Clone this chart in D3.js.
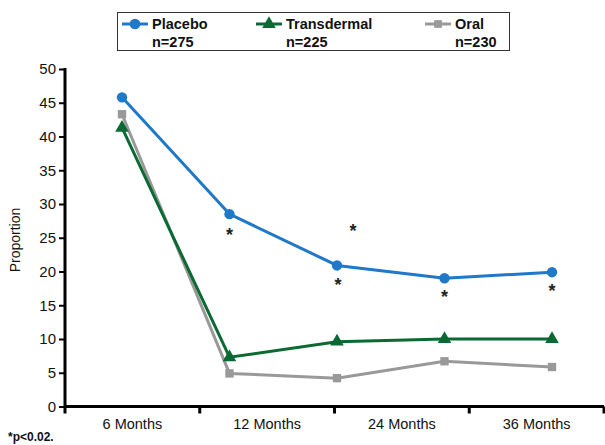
<!DOCTYPE html>
<html>
<head>
<meta charset="utf-8">
<script src="https://cdn.jsdelivr.net/npm/d3@7"></script>
<style>
  body { margin: 0; background: #fff; }
  svg { display: block; font-family: "Liberation Sans", Arial, sans-serif; }
</style>
</head>
<body>
<svg id="chart" width="605" height="445"></svg>
<script>
// categories shown under the axis and the visit index of each plotted point
var categories = ["6 Months", "12 Months", "24 Months", "36 Months"];
var visits = [0, 1, 2, 3, 4];
var yTicks = [0, 5, 10, 15, 20, 25, 30, 35, 40, 45, 50];

var placebo = [45.8, 28.5, 20.9, 19.0, 19.9];
var transdermal = [41.3, 7.3, 9.6, 10.0, 10.0];
var oral = [43.3, 4.9, 4.2, 6.7, 5.85];

var seriesNames = ["Placebo", "Transdermal", "Oral"];
var seriesN = ["n=275", "n=225", "n=230"];

// significance marks: [visit index, value]
var stars = [[1, 26.1], [2.15, 26.8], [2.01, 18.7], [3.0, 17.0], [4.0, 17.85]];

var svg = d3.select("svg");
// (window.top is reserved, so plot edges get their own names)
var plotL = 65, plotR = 604, plotT = 69, plotB = 406.5;

var y = d3.scaleLinear().domain([0, 50]).range([plotB, plotT]);
var xBand = d3.scaleBand().domain(categories).range([plotL, plotR]);
var x = d3.scaleLinear().domain([0, 4]).range([122, 552]);

// y axis
var yAxis = svg.append("g").attr("transform", "translate(" + plotL + ",0)")
    .call(d3.axisLeft(y).tickValues(yTicks).tickSize(6).tickPadding(3));
yAxis.select(".domain").attr("stroke", "#000").attr("stroke-width", 3).attr("d", "M0," + (plotB + 1) + "V" + (plotT - 1));
yAxis.selectAll(".tick line").attr("stroke", "#000").attr("stroke-width", 2);
yAxis.selectAll(".tick text").attr("fill", "#111").style("font-size", "15px");

// x axis: ticks on category boundaries, labels centred in bands
var xg = svg.append("g").attr("transform", "translate(0," + plotB + ")");
xg.append("line").attr("x1", plotL - 1).attr("x2", plotR).attr("y1", 0).attr("y2", 0)
  .attr("stroke", "#000").attr("stroke-width", 3);
var bounds = categories.map(function(c) { return xBand(c); }).concat([plotR]);
xg.selectAll("line.tk").data(bounds).enter().append("line").attr("class", "tk")
  .attr("x1", function(d) { return d; }).attr("x2", function(d) { return d; })
  .attr("y1", 0).attr("y2", 7).attr("stroke", "#000").attr("stroke-width", 3);
xg.selectAll("text").data(categories).enter().append("text")
  .attr("x", function(d) { return xBand(d) + xBand.bandwidth() / 2; })
  .attr("y", 22).attr("text-anchor", "middle").attr("fill", "#111")
  .style("font-size", "14.5px").text(function(d) { return d; });

// y label
svg.append("text").attr("transform", "translate(20,240) rotate(-90)")
  .attr("text-anchor", "middle").attr("fill", "#111").style("font-size", "14px")
  .text("Proportion");

var line = d3.line().x(function(d, i) { return x(visits[i]); }).y(function(d) { return y(d); });

function drawSeries(vals, color, shape) {
  svg.append("path").attr("d", line(vals)).attr("fill", "none")
    .attr("stroke", color).attr("stroke-width", 3);
  var sym = d3.symbol().type(shape).size(shape === d3.symbolTriangle ? 80 : (shape === d3.symbolCircle ? 85 : 70));
  svg.selectAll(null).data(vals).enter().append("path")
    .attr("d", sym)
    .attr("transform", function(d, i) { return "translate(" + x(visits[i]) + "," + y(d) + ")"; })
    .attr("fill", color);
}

var colors = ["#1f78c8", "#0b6a34", "#999999"];
var shapes = [d3.symbolCircle, d3.symbolTriangle, d3.symbolSquare];
drawSeries(oral, colors[2], shapes[2]);
drawSeries(transdermal, colors[1], shapes[1]);
drawSeries(placebo, colors[0], shapes[0]);

// asterisks
svg.selectAll("text.star").data(stars).enter().append("text").attr("class", "star")
  .attr("x", function(d) { return x(d[0]); })
  .attr("y", function(d) { return y(d[1]) + 11; })
  .attr("text-anchor", "middle").attr("fill", "#222")
  .style("font-size", "18px").style("font-weight", "bold").text("*");

// legend
var lg = svg.append("g");
lg.append("rect").attr("x", 117.5).attr("y", 12.5).attr("width", 392).attr("height", 38)
  .attr("fill", "#fff").attr("stroke", "#333").attr("stroke-width", 1);
var legX = [122, 256, 425];
seriesNames.forEach(function(name, i) {
  var lx = legX[i];
  lg.append("line").attr("x1", lx).attr("x2", lx + 26).attr("y1", 24).attr("y2", 24)
    .attr("stroke", colors[i]).attr("stroke-width", 3);
  var sym = d3.symbol().type(shapes[i]).size(i === 1 ? 80 : (i === 0 ? 90 : 60));
  lg.append("path").attr("d", sym).attr("transform", "translate(" + (lx + 13) + ",24)")
    .attr("fill", colors[i]);
  lg.append("text").attr("x", lx + 30).attr("y", 29).attr("fill", "#111")
    .style("font-size", "14.5px").style("font-weight", "bold").text(name);
  lg.append("text").attr("x", lx + 30).attr("y", 47).attr("fill", "#111")
    .style("font-size", "14.5px").style("font-weight", "bold").text(seriesN[i]);
});

// footnote
svg.append("text").attr("x", 8).attr("y", 441).attr("fill", "#111")
  .style("font-size", "12px").style("font-weight", "bold").text("*p<0.02.");
</script>
</body>
</html>
